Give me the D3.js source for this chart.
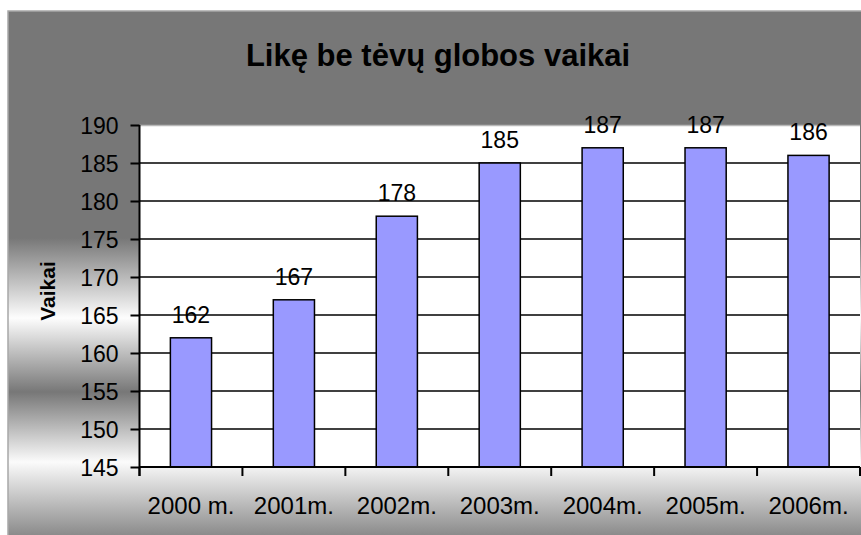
<!DOCTYPE html>
<html>
<head>
<meta charset="utf-8">
<script src="https://cdn.jsdelivr.net/npm/d3@7"></script>
<style>
    body { margin: 0; background: #fff; }
    text { font-family: "Liberation Sans", Arial, sans-serif; fill: #000; }
</style>
</head>
<body>
<div id="chart"></div>
<script>
const categories = ['2000 m.', '2001m.', '2002m.', '2003m.', '2004m.', '2005m.', '2006m.'];
const values = [162, 167, 178, 185, 187, 187, 186];
const yTicks = [145, 150, 155, 160, 165, 170, 175, 180, 185, 190];
const chartTitle = 'Likę be tėvų globos vaikai';
const yTitle = 'Vaikai';

class BarChart {

    constructor(_config) {
        this.config = {
            parentElement: _config.parentElement,
            containerWidth: 861,
            containerHeight: 535,
            // outer chart frame
            frame: {x: 8, y: 11, width: 862, height: 528},
            // plot area
            margin: {top: 125, right: 1, bottom: 68, left: 139.5}
        };
        this.initVis();
    }

    initVis() {
        let vis = this;
        const c = vis.config;

        vis.width = c.containerWidth - c.margin.left - c.margin.right;
        vis.height = c.containerHeight - c.margin.top - c.margin.bottom;

        vis.svg = d3.select(c.parentElement).append('svg')
            .attr('width', c.containerWidth)
            .attr('height', c.containerHeight);

        // Background gradient of the frame (gray / white bands)
        const f = c.frame;
        const grad = vis.svg.append('defs').append('linearGradient')
            .attr('id', 'bg-gradient')
            .attr('gradientUnits', 'userSpaceOnUse')
            .attr('x1', 0).attr('x2', 0)
            .attr('y1', f.y).attr('y2', f.y + f.height);
        const stops = [
            {y: f.y, color: '#777777'},
            {y: 238, color: '#777777'},
            {y: 318, color: '#fdfdfd'},
            {y: 392, color: '#777777'},
            {y: 462, color: '#fbfbfb'},
            {y: f.y + f.height, color: '#858585'}
        ];
        grad.selectAll('stop')
            .data(stops)
            .join('stop')
            .attr('offset', d => (d.y - f.y) / f.height)
            .attr('stop-color', d => d.color);

        vis.svg.append('rect')
            .attr('x', f.x).attr('y', f.y)
            .attr('width', f.width).attr('height', f.height)
            .attr('fill', 'url(#bg-gradient)')
            .attr('stroke', '#a8a8a8')
            .attr('stroke-width', 1.5);

        vis.chart = vis.svg.append('g')
            .attr('transform', `translate(${c.margin.left},${c.margin.top})`);

        vis.xScale = d3.scaleBand()
            .domain(categories)
            .range([0, vis.width])
            .paddingInner(0.6)
            .paddingOuter(0.3);

        vis.yScale = d3.scaleLinear()
            .domain([145, 190])
            .range([vis.height, 0]);

        // white plot area
        vis.chart.append('rect')
            .attr('width', vis.width)
            .attr('height', vis.height)
            .attr('fill', '#fff');

        vis.chart.append('line')
            .attr('x1', 0).attr('x2', vis.width)
            .attr('y1', 0.5).attr('y2', 0.5)
            .attr('stroke', '#b8b8b8')
            .attr('stroke-width', 1.5);

        vis.svg.append('text')
            .attr('x', 438)
            .attr('y', 66)
            .attr('text-anchor', 'middle')
            .style('font-size', '31px')
            .style('font-weight', 'bold')
            .text(chartTitle);

        vis.svg.append('text')
            .attr('transform', `translate(55,${c.margin.top + vis.height / 2 - 5}) rotate(-90)`)
            .attr('text-anchor', 'middle')
            .style('font-size', '21px')
            .style('font-weight', 'bold')
            .text(yTitle);

        vis.renderVis();
    }

    renderVis() {
        let vis = this;

        // gridlines
        vis.chart.selectAll('.grid')
            .data(yTicks.filter(d => d > 145 && d < 190))
            .join('line')
            .attr('class', 'grid')
            .attr('x1', 0).attr('x2', vis.width)
            .attr('y1', d => vis.yScale(d)).attr('y2', d => vis.yScale(d))
            .attr('stroke', '#000')
            .attr('stroke-width', 1.4);

        vis.chart.selectAll('.bar')
            .data(values)
            .join('rect')
            .attr('class', 'bar')
            .attr('x', (d, i) => vis.xScale(categories[i]))
            .attr('width', vis.xScale.bandwidth())
            .attr('y', d => vis.yScale(d))
            .attr('height', d => vis.height - vis.yScale(d))
            .attr('fill', '#9999ff')
            .attr('stroke', '#000')
            .attr('stroke-width', 1.5);

        vis.chart.selectAll('.bar-label')
            .data(values)
            .join('text')
            .attr('class', 'bar-label')
            .attr('text-anchor', 'middle')
            .attr('x', (d, i) => vis.xScale(categories[i]) + vis.xScale.bandwidth() / 2)
            .attr('y', d => vis.yScale(d) - 15)
            .style('font-size', '23px')
            .text(d => d);

        // y axis
        const yAxis = d3.axisLeft(vis.yScale)
            .tickValues(yTicks)
            .tickSize(9)
            .tickPadding(12);
        const yg = vis.chart.append('g').call(yAxis);
        yg.select('.domain').attr('stroke-width', 2).attr('d', `M0,0V${vis.height + 9}`);
        yg.selectAll('.tick line').attr('stroke-width', 2);
        yg.selectAll('.tick text')
            .attr('dy', '0.36em')
            .style('font-size', '23px')
            .style('font-family', '"Liberation Sans", Arial, sans-serif');

        // x axis with ticks at category boundaries
        const xg = vis.chart.append('g')
            .attr('transform', `translate(0,${vis.height})`);
        xg.append('line')
            .attr('x1', 0).attr('x2', vis.width)
            .attr('stroke', '#000')
            .attr('stroke-width', 2);
        const step = vis.xScale.step();
        xg.selectAll('.xtick')
            .data(d3.range(categories.length + 1))
            .join('line')
            .attr('class', 'xtick')
            .attr('x1', i => i * step).attr('x2', i => i * step)
            .attr('y1', 0).attr('y2', 9)
            .attr('stroke', '#000')
            .attr('stroke-width', 2);
        xg.selectAll('.xlabel')
            .data(categories)
            .join('text')
            .attr('class', 'xlabel')
            .attr('text-anchor', 'middle')
            .attr('x', d => vis.xScale(d) + vis.xScale.bandwidth() / 2)
            .attr('y', 47)
            .style('font-size', '24px')
            .text(d => d);
    }
}

new BarChart({parentElement: '#chart'});
</script>
</body>
</html>
